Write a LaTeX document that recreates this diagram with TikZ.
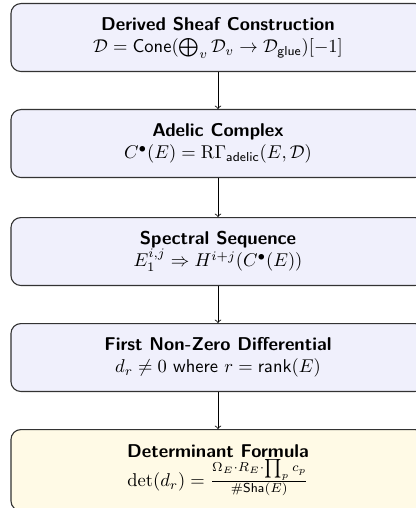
\documentclass[tikz,border=0pt]{standalone}
\definecolor{boxblue}{RGB}{240,240,252}
\definecolor{boxyellow}{RGB}{255,250,230}
\begin{document}
\begin{tikzpicture}[x=0.54pt,y=-0.54pt,
  stagebox/.style={draw=black!80, semithick, rounded corners=5.4pt, fill=boxblue,
    minimum width=223.6pt, minimum height=36.7pt, align=center, font=\sffamily,
    anchor=north, inner sep=3pt},
  finalbox/.style={stagebox, fill=boxyellow, minimum height=43.9pt},
  flow/.style={->, black}]
\useasboundingbox (0,0) rectangle (415,508);
\node[stagebox] (a) at (218,3)
  {\textbf{Derived Sheaf Construction}\\ $\mathcal{D} = \mathsf{Cone}(\bigoplus_v \mathcal{D}_v \to \mathcal{D}_{\mathsf{glue}})[-1]$};
\node[stagebox] (b) at (218,109)
  {\textbf{Adelic Complex}\\ $C^\bullet(E) = \mathrm{R}\Gamma_{\mathsf{adelic}}(E, \mathcal{D})$};
\node[stagebox] (c) at (218,217)
  {\textbf{Spectral Sequence}\\ $E_1^{i,j} \Rightarrow H^{i+j}(C^\bullet(E))$};
\node[stagebox] (d) at (218,323)
  {\textbf{First Non-Zero Differential}\\ $d_r \neq 0$ where $r = \mathsf{rank}(E)$};
\node[finalbox] (e) at (218,429)
  {\textbf{Determinant Formula}\\ $\det(d_r) = \frac{\Omega_E \cdot R_E \cdot \prod_p c_p}{\#\mathsf{Sha}(E)}$};
\draw[flow] (a.south) -- (b.north);
\draw[flow] (b.south) -- (c.north);
\draw[flow] (c.south) -- (d.north);
\draw[flow] (d.south) -- (e.north);
\end{tikzpicture}
\end{document}
